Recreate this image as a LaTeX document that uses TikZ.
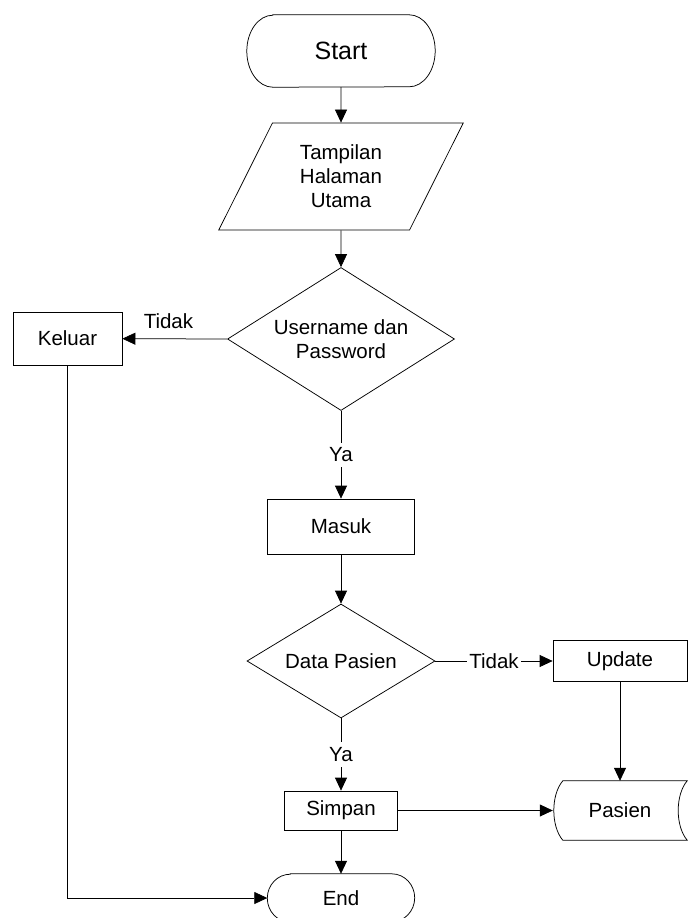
\documentclass[tikz,border=0pt]{standalone}
\usepackage{fontspec}
\setmainfont{Liberation Sans}
\usetikzlibrary{arrows.meta,positioning,calc,shapes.geometric}

% terminal outline round a node: node, x radius, y radius
\newcommand{\drawterm}[3]{%
  \draw[line] ($(#1.north west)+(#2,0)$) -- ($(#1.north east)+(-#2,0)$)
    arc[start angle=-90,end angle=90,x radius=#2,y radius=#3]
    -- ($(#1.south west)+(#2,0)$)
    arc[start angle=90,end angle=270,x radius=#2,y radius=#3] -- cycle;}

\begin{document}
\begin{tikzpicture}[x=1pt,y=-1pt,>={Triangle[length=13pt,width=12pt]},
  every node/.style={font=\fontsize{20.5}{24}\selectfont,align=center,inner sep=0pt},
  line/.style={line width=0.75pt},
  proc/.style={draw,line,rectangle},
  io/.style={draw,line,trapezium,trapezium left angle=63,trapezium right angle=117,trapezium stretches=true},
  dec/.style={draw,line,diamond,aspect=1.6},
  lbl/.style={fill=white,inner xsep=2pt,inner ysep=5pt}]
  \useasboundingbox (0,0) rectangle (688,918);
  % main column
  \node[minimum width=188pt,minimum height=72pt,font=\fontsize{25}{30}\selectfont] (start) at (341,51) {Start};
  \drawterm{start}{26}{36}
  \node[io,minimum width=245pt,minimum height=107pt] (tampil) at (341,176.5) {Tampilan\\Halaman\\Utama};
  \node[dec,minimum width=227pt,minimum height=143pt] (login) at (341,339) {Username dan\\Password};
  \node[proc,minimum width=109pt,minimum height=53pt] (keluar) at (67.5,338.5) {Keluar};
  \node[proc,minimum width=147pt,minimum height=55pt] (masuk) at (341,526.5) {Masuk};
  \node[dec,minimum width=188pt,minimum height=114pt] (data) at (341,661) {Data Pasien};
  \node[proc,minimum width=113pt,minimum height=39pt] (simpan) at (341,810.5) {Simpan};
  \node[minimum width=147pt,minimum height=48pt] (end) at (341,898) {End};
  \drawterm{end}{23}{24}
  % right column
  \node[proc,minimum width=134pt,minimum height=41pt] (update) at (620,661) {Update};
  \node[minimum width=134pt,minimum height=59pt] (pasien) at (620,810.5) {Pasien};
  \draw[line] ($(pasien.north west)+(10,0)$) -- (pasien.north east)
    .. controls ($(pasien.north east)+(-12,14)$) and ($(pasien.south east)+(-12,-14)$) .. (pasien.south east)
    -- ($(pasien.south west)+(10,0)$)
    .. controls ($(pasien.south west)+(-2,-14)$) and ($(pasien.north west)+(-2,14)$) .. ($(pasien.north west)+(10,0)$) -- cycle;
  % connectors
  \draw[line,->] (start) -- (tampil);
  \draw[line,->] (tampil) -- (login);
  \draw[line,->] (login.west) -- node[above=9.5pt,pos=0.56]{Tidak} (keluar);
  \draw[line,->] (login) -- node[lbl]{Ya} (masuk);
  \draw[line,->] (masuk) -- (data);
  \draw[line,->] (data) -- node[lbl]{Tidak} (update);
  \draw[line,->] (data) -- node[lbl]{Ya} (simpan);
  \draw[line,->] (update) -- (pasien.north);
  \draw[line,->] (simpan) -- (pasien.west);
  \draw[line,->] (simpan) -- (end);
  \draw[line,->] (keluar) |- (end);
\end{tikzpicture}
\end{document}
